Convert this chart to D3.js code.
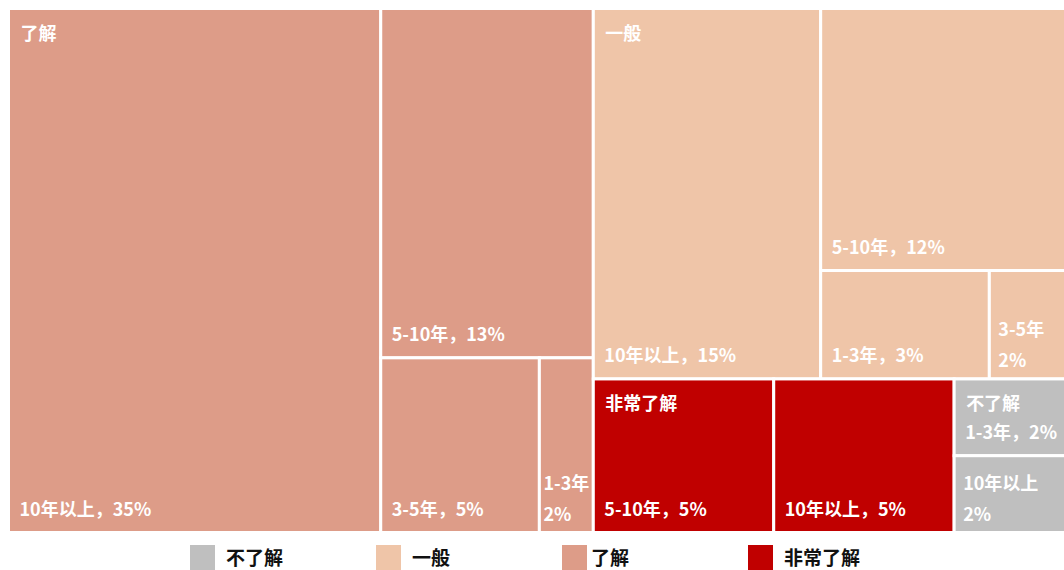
<!DOCTYPE html>
<html>
<head>
<meta charset="utf-8">
<script src="https://cdn.jsdelivr.net/npm/d3@7"></script>
<style>
  body { margin: 0; background: #fff; }
  text { font-family: "Microsoft YaHei", "Noto Sans CJK SC", sans-serif; font-weight: bold; }
</style>
</head>
<body>
<div id="wrapper"></div>
<script>
// groups and their colours
const groups = ["了解", "一般", "非常了解", "不了解"];
const groupColors = ["#dd9c88", "#efc5a8", "#c00000", "#bfbfbf"];

// leaves per group (share in percent, estimated from areas)
const leafNames = [
    ["10年以上", "5-10年", "3-5年", "1-3年"],
    ["10年以上", "5-10年", "1-3年", "3-5年"],
    ["5-10年", "10年以上"],
    ["1-3年", "10年以上"]
];
const leafShares = [
    [35.2, 13.4, 5.0, 1.7],
    [15.2, 11.6, 3.3, 1.5],
    [5.0, 5.0],
    [1.55, 1.55]
];
const leafLabels = [
    ["35%", "13%", "5%", "2%"],
    ["15%", "12%", "3%", "2%"],
    ["5%", "5%"],
    ["2%", "2%"]
];

const legendOrder = ["不了解", "一般", "了解", "非常了解"];

const width = 1064, height = 570;

const color = d3.scaleOrdinal().domain(groups).range(groupColors);

const tree = {
    name: "root",
    children: groups.map((g, i) => ({
        name: g,
        children: leafNames[i].map((n, j) => ({
            name: n, value: leafShares[i][j], label: leafLabels[i][j], group: g, first: j === 0
        }))
    }))
};

const root = d3.hierarchy(tree).sum(d => d.value || 0);

d3.treemap()
    .tile(d3.treemapSquarify.ratio(1))
    .size([1057.5, 524])
    (root);

const svg = d3.select("#wrapper")
    .append("svg")
    .attr("width", width)
    .attr("height", height);

const leaves = svg.append("g")
    .attr("transform", "translate(8.5,8.5)")
    .selectAll("g")
    .data(root.leaves())
    .join("g");

leaves.append("rect")
    .attr("x", d => d.x0)
    .attr("y", d => d.y0)
    .attr("width", d => d.x1 - d.x0)
    .attr("height", d => d.y1 - d.y0)
    .attr("fill", d => color(d.data.group))
    .attr("stroke", "#fff")
    .attr("stroke-width", 3);

// group name in the first cell of each group
leaves.filter(d => d.data.first)
    .append("text")
    .attr("x", d => d.x0 + 12)
    .attr("y", d => d.y0 + 31)
    .attr("fill", "#fff")
    .style("font-size", "18px")
    .text(d => d.data.group);

// leaf label at the bottom left, wrapped when too wide
leaves.each(function (d) {
    const w = d.x1 - d.x0;
    const t = d3.select(this).append("text")
        .attr("fill", "#fff")
        .style("font-size", "18px")
        .text(d.data.name + "，" + d.data.label);
    const tw = t.node().getComputedTextLength();
    if (tw + 20 <= w) {
        t.attr("x", d.x0 + 11).attr("y", d.y1 - 17);
        return;
    }
    t.text(d.data.name);
    const nameW = t.node().getComputedTextLength();
    const pad = Math.max(3, Math.min(9, (w - nameW) / 2));
    t.text(null);
    t.append("tspan")
        .attr("x", d.x0 + pad)
        .attr("y", d.y1 - 43)
        .text(d.data.name);
    t.append("tspan")
        .attr("x", d.x0 + pad)
        .attr("y", d.y1 - 12)
        .text(d.data.label);
});

// legend
const legendX = d3.scalePoint().domain(legendOrder).range([190, 748]);

const legend = svg.append("g")
    .selectAll("g")
    .data(legendOrder)
    .join("g")
    .attr("transform", d => `translate(${legendX(d)},545)`);

legend.append("rect")
    .attr("width", 25)
    .attr("height", 25)
    .attr("fill", d => color(d));

legend.append("text")
    .attr("x", d => d === "了解" ? 29 : 36)
    .attr("y", 20)
    .attr("fill", "#111")
    .style("font-size", "19px")
    .text(d => d);
</script>
</body>
</html>
